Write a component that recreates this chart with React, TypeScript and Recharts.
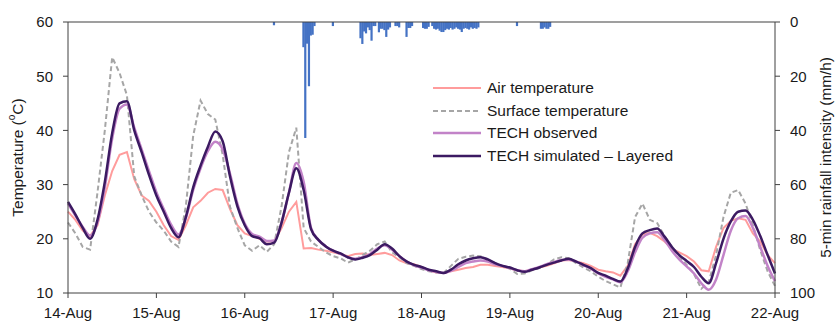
import React from 'react'
import { ComposedChart, Line, Bar, XAxis, YAxis, ReferenceLine } from 'recharts'

// day labels on the x axis, one every 24 h
const dayLabels = ['14-Aug', '15-Aug', '16-Aug', '17-Aug', '18-Aug', '19-Aug', '20-Aug', '21-Aug', '22-Aug']
const dayTicks = [0, 24, 48, 72, 96, 120, 144, 168, 192]
const tempTicks = [10, 20, 30, 40, 50, 60]
const rainTicks = [0, 20, 40, 60, 80, 100]

// temperatures (°C), every 2 hours from 14-Aug 00:00
const airTemp = [
  25.0, 23.5, 21.5, 20.5, 22.5, 28.0, 32.5, 35.5, 36.0, 31.0,
  28.0, 27.0, 25.0, 22.5, 20.5, 19.8, 22.5, 25.8, 27.0, 28.5,
  29.2, 29.0, 25.5, 22.5, 21.0, 20.5, 20.0, 19.5, 19.5, 22.0,
  25.0, 26.8, 18.2, 18.3, 18.0, 17.8, 17.5, 17.2, 16.8, 17.2,
  17.3, 17.0, 17.2, 17.4, 17.0, 16.0, 15.5, 15.3, 14.8, 14.2,
  13.8, 13.7, 14.0, 14.3, 14.6, 14.8, 15.2, 15.2, 15.0, 14.8,
  14.5, 14.2, 14.0, 14.3, 14.7, 15.0, 15.5, 16.0, 16.1, 15.8,
  15.5, 15.0, 14.3, 14.0, 13.8, 13.2, 15.0, 19.0, 20.8, 21.1,
  20.5, 19.5, 18.2, 17.5, 16.8, 15.8, 14.2, 14.0, 18.5, 22.0,
  23.3, 23.8, 23.5, 21.0, 19.5, 17.0, 15.5,
]
const surfTemp = [
  23.0, 21.0, 18.5, 18.0, 28.5, 40.0, 53.5, 50.6, 46.5, 31.5,
  28.0, 25.0, 23.0, 21.5, 19.5, 18.5, 26.0, 39.0, 45.5, 43.0,
  42.0, 35.5, 25.9, 22.0, 18.8, 17.8, 18.8, 17.6, 19.0, 26.0,
  36.0, 40.5, 22.0, 19.5, 18.5, 17.5, 16.8, 16.4, 15.6, 16.2,
  17.0, 17.8, 19.0, 19.5, 17.5, 16.6, 15.5, 15.0, 14.4, 14.0,
  13.8, 13.7, 15.0, 16.3, 16.7, 16.9, 16.8, 16.2, 15.5, 15.0,
  14.5, 13.5, 13.6, 14.2, 14.6, 15.3, 16.2, 16.6, 16.4, 15.5,
  14.7, 14.0, 13.0, 12.2, 11.6, 11.0, 15.5, 24.0, 26.5, 23.5,
  22.9, 20.5, 18.5, 16.8, 15.2, 13.5, 10.8, 12.0, 17.0, 24.0,
  28.5, 29.0, 26.5, 22.5, 17.9, 14.0, 11.3,
]
const obsTemp = [
  26.5, 24.3, 22.2, 20.6, 23.0, 29.5, 38.5, 44.0, 44.8, 40.5,
  36.5, 32.5, 28.6, 25.5, 22.6, 20.8, 23.8, 29.0, 33.0, 36.2,
  37.9, 36.5, 32.0, 26.5, 22.8, 20.9, 20.4, 19.6, 19.7, 23.0,
  28.5, 34.0, 30.5, 22.0, 19.8, 18.6, 17.8, 17.2, 16.6, 16.3,
  16.6, 17.2, 18.2, 18.8, 18.0, 16.8, 15.8, 15.1, 14.7, 14.2,
  13.9, 13.7, 14.1, 14.8, 15.5, 15.8, 16.0, 15.8, 15.3, 15.0,
  14.6, 14.2, 14.0, 14.4, 14.8, 15.3, 15.7, 16.1, 16.2, 15.8,
  15.1, 14.5, 13.6, 13.0, 12.5, 12.0, 14.0, 17.5, 20.2, 21.0,
  21.2, 19.8, 17.8, 16.2, 14.9, 13.6, 11.8, 10.6, 12.5, 17.0,
  21.5, 23.8, 24.2, 22.0, 18.5, 15.0, 12.2,
]
const simTemp = [
  26.8, 24.5, 22.0, 20.0, 23.5, 30.5, 39.5, 45.0, 45.4, 40.0,
  36.0, 31.8, 28.0, 25.0, 22.0, 20.3, 24.0, 29.5, 33.5, 37.0,
  39.8, 38.0, 31.5, 26.0, 22.5, 20.5, 20.1, 19.0, 19.3, 23.0,
  28.5, 33.0, 29.0, 21.8, 19.8, 18.6, 17.8, 17.3, 16.6, 16.2,
  16.5, 17.0, 18.0, 19.0, 18.2, 16.8, 15.8, 15.2, 14.8, 14.3,
  14.0, 13.7, 14.3, 15.3, 16.0, 16.4, 16.6, 16.2, 15.5, 15.0,
  14.7, 14.2, 13.9, 14.3, 14.7, 15.2, 15.6, 16.0, 16.3, 15.8,
  15.2, 14.6, 13.7, 13.2, 12.6, 12.1, 14.5, 18.5, 21.0, 21.6,
  21.9, 20.4, 18.5, 17.0, 15.9, 14.8, 13.0, 11.8, 15.5, 20.0,
  23.2, 25.0, 25.2, 23.5, 20.5, 17.0, 13.6,
]
const tempHours = airTemp.map((_, i) => i * 2)

// 5-min rainfall intensity (mm/h)
const rainHours = [
  56.0, 64.0, 64.5, 65.0, 65.5, 66.0, 66.5, 67.0, 72.0,
  79.5, 80.0, 80.5, 81.0, 81.5, 82.0, 82.5, 83.0, 83.5,
  84.5, 85.0, 85.5, 86.0, 86.5, 87.0, 87.5, 89.0, 89.5, 90.0,
  92.0, 92.5, 93.0, 93.5, 96.5, 97.0, 97.5, 98.0,
  99.0, 99.5, 100.0, 100.5, 101.0, 101.5, 102.0, 102.5, 103.0, 103.5,
  104.0, 104.5, 105.0, 105.5, 106.0, 106.5, 107.0, 107.5, 108.0, 108.5,
  109.0, 109.5, 110.0, 110.5, 111.0, 111.5, 122.0,
  128.5, 129.0, 129.5, 130.0, 130.5, 131.0,
]
const rainRate = [
  1.2, 9.3, 42.8, 8.0, 23.7, 5.0, 4.7, 1.5, 1.5,
  6.0, 8.1, 3.5, 4.2, 2.0, 3.0, 6.9, 1.5, 1.5,
  3.8, 2.5, 2.5, 3.0, 5.5, 2.8, 2.0, 1.5, 1.5, 2.0,
  5.5, 2.2, 2.2, 1.5, 2.2, 2.5, 2.5, 1.8,
  1.5, 2.5, 2.8, 2.5, 3.2, 3.7, 3.7, 3.0, 2.5, 2.8,
  2.2, 2.8, 2.5, 2.0, 2.5, 2.8, 3.7, 2.5, 2.2, 2.5,
  2.8, 2.0, 2.5, 2.2, 2.5, 2.0, 1.5,
  2.5, 2.5, 2.0, 2.5, 2.5, 1.8,
]

const rowMap = new Map<number, any>()
tempHours.forEach((h, i) =>
  rowMap.set(h, { hour: h, air: airTemp[i], surface: surfTemp[i], observed: obsTemp[i], simulated: simTemp[i] })
)
rainHours.forEach((h, i) => {
  const row = rowMap.get(h) || { hour: h }
  row.rain = rainRate[i]
  rowMap.set(h, row)
})
const data = Array.from(rowMap.values()).sort((a, b) => a.hour - b.hour)

const font = '"Liberation Sans", Arial, sans-serif'
const axisColor = '#404040'
const textColor = '#1a1a1a'
const rainColor = '#4472c4'

const series = [
  { key: 'air', name: 'Air temperature', color: '#ff9c9c', width: 2, dash: undefined, type: 'linear' },
  { key: 'surface', name: 'Surface temperature', color: '#a6a6a6', width: 2, dash: '5 3', type: 'linear' },
  { key: 'observed', name: 'TECH observed', color: '#c283c8', width: 2.5, dash: undefined, type: 'monotone' },
  { key: 'simulated', name: 'TECH simulated \u2013 Layered', color: '#3c1a62', width: 2.5, dash: undefined, type: 'monotone' },
]

// thin rainfall bars: recharts caps the width to the 30-min spacing, so widen a bit
const RainBar = (props: any) => {
  const { x, y, width, height } = props
  if (x == null || y == null || !height) return null
  const w = 2.2
  const top = Math.min(y, y + height)
  return <rect x={x + width / 2 - w / 2} y={top} width={w} height={Math.abs(height)} fill={rainColor} />
}

const TempLabel = (props: any) => {
  const vb = props.viewBox || { x: 0, y: 22, width: 68, height: 271 }
  const cx = vb.x + 17
  const cy = vb.y + vb.height / 2
  return (
    <text x={cx} y={cy} transform={`rotate(-90 ${cx} ${cy})`} textAnchor="middle" dominantBaseline="central"
      fontSize={15.5} fill={textColor} fontFamily={font}>
      Temperature (<tspan dy={-6} fontSize={10}>o</tspan><tspan dy={6}>C)</tspan>
    </text>
  )
}

const RainLabel = (props: any) => {
  const vb = props.viewBox || { x: 775, y: 22, width: 64, height: 271 }
  const cx = vb.x + 50
  const cy = vb.y + vb.height / 2
  return (
    <text x={cx} y={cy} transform={`rotate(-90 ${cx} ${cy})`} textAnchor="middle" dominantBaseline="central"
      fontSize={15.3} fill={textColor} fontFamily={font}>
      5-min rainfall intensity (mm/h)
    </text>
  )
}

const ChartLegend = () => (
  <div style={{ position: 'absolute', left: 433, top: 77, fontFamily: font, fontSize: 15.5, color: textColor }}>
    {series.map(s => (
      <div key={s.key} style={{ display: 'flex', alignItems: 'center', height: 22.5 }}>
        <svg width={48} height={6} style={{ marginRight: 6 }}>
          <line x1={0} y1={3} x2={48} y2={3} stroke={s.color} strokeWidth={s.width} strokeDasharray={s.dash} />
        </svg>
        <span style={{ whiteSpace: 'nowrap' }}>{s.name}</span>
      </div>
    ))}
  </div>
)

export default function App() {
  return (
    <div style={{ position: 'absolute', left: 0, top: 0, width: 839, height: 325, background: '#fff' }}>
      <ComposedChart width={839} height={325} data={data} margin={{ top: 22, right: 0, bottom: 0, left: 0 }}>
        <XAxis
          dataKey="hour"
          type="number"
          domain={[0, 192]}
          ticks={dayTicks}
          interval={0}
          tickFormatter={(v: number) => dayLabels[Math.round(v / 24)]}
          height={32}
          tickSize={5}
          tickMargin={9}
          axisLine={{ stroke: axisColor }}
          tickLine={{ stroke: axisColor }}
          tick={{ fill: textColor, fontSize: 15, fontFamily: font }}
        />
        <YAxis
          yAxisId="temp"
          domain={[10, 60]}
          ticks={tempTicks}
          interval={0}
          width={68}
          tickSize={5}
          tickMargin={10}
          axisLine={{ stroke: axisColor }}
          tickLine={{ stroke: axisColor }}
          tick={{ fill: textColor, fontSize: 15, fontFamily: font }}
          label={<TempLabel />}
        />
        <YAxis
          yAxisId="rain"
          orientation="right"
          reversed
          domain={[0, 100]}
          ticks={rainTicks}
          interval={0}
          width={64}
          tickSize={5}
          tickMargin={10}
          axisLine={{ stroke: axisColor }}
          tickLine={{ stroke: axisColor }}
          tick={{ fill: textColor, fontSize: 15, fontFamily: font }}
          label={<RainLabel />}
        />
        <Bar yAxisId="rain" dataKey="rain" fill={rainColor} shape={RainBar} isAnimationActive={false} />
        {series.map(s => (
          <Line
            key={s.key}
            yAxisId="temp"
            type={s.type as any}
            dataKey={s.key}
            stroke={s.color}
            strokeWidth={s.width}
            strokeDasharray={s.dash}
            dot={false}
            activeDot={false}
            connectNulls
            isAnimationActive={false}
          />
        ))}
        <ReferenceLine yAxisId="temp" y={60} stroke={axisColor} strokeWidth={1.2} />
      </ComposedChart>
      <ChartLegend />
    </div>
  )
}
